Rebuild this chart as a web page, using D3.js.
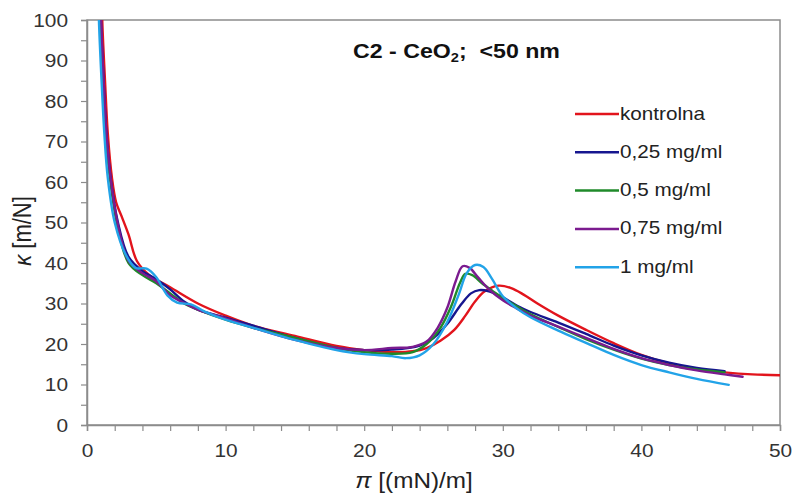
<!DOCTYPE html>
<html>
<head>
<meta charset="utf-8">
<script src="https://cdn.jsdelivr.net/npm/d3@7"></script>
<style>
  html, body { margin: 0; padding: 0; background: #fff; }
  svg { display: block; }
  text { font-family: "Liberation Sans", Arial, sans-serif; }
</style>
</head>
<body>
<svg id="chart" width="795" height="497"></svg>
<script>
// Surface pressure π [(mN)/m] vs. compressibility κ [m/N]
const seriesNames = ["kontrolna", "0,25 mg/ml", "0,5 mg/ml", "0,75 mg/ml", "1 mg/ml"];
const seriesColors = ["#e2141c", "#16168f", "#1f8a2a", "#7b1b8f", "#22a3e8"];

const kontrolna = [[1.05,112],[1.1,100],[1.3,85],[1.5,72],[1.8,61],[2.1,55],[2.5,51.5],[3,47],[3.6,40.5],[4.5,37],[6,34],[8,30],[10,27],[12,24.5],[15,22],[18,19.5],[20,18.5],[22,18],[23.5,18.2],[24.5,19],[25.5,20.8],[26.5,23.5],[27.3,27],[28,30.5],[28.7,33],[29.7,34.4],[30.6,33.8],[31.5,32.2],[32.5,30],[34,27],[36,23.5],[38,20.2],[40,17.3],[42,15.2],[44,13.8],[46,13],[48,12.5],[50,12.3]];
const c025 = [[0.95,112],[1.0,100],[1.2,85],[1.4,72],[1.7,61],[2.2,50.5],[3,41.5],[4,38],[5,36],[6,33.5],[7,30.5],[8,28.5],[10,26.5],[12,24.5],[15,21.5],[18,19],[20,18.5],[22,18.6],[24,19.6],[25,21.5],[26,25],[27,29.8],[27.7,32.5],[28.3,33.3],[29,33],[30,31.5],[31,29.5],[32,27.9],[34,25.3],[36,22.5],[38,19.6],[40,17.2],[42,15.4],[44,14.1],[46,13.3]];
const c05 = [[0.9,112],[0.97,100],[1.15,85],[1.35,72],[1.65,61],[2.2,49],[3,40],[4,37],[5,35],[6,32.5],[7,30],[8,28.5],[10,26],[12,24],[15,21.5],[18,19],[20,18],[22,17.6],[23.5,18],[24.5,20],[25.5,24],[26.3,29.5],[26.9,35],[27.3,37.3],[27.8,37],[28.5,35],[29.3,33],[30,31.3],[31,29.3],[32,27.3],[34,24.2],[36,21.2],[38,18.6],[40,16.4],[42,14.8],[44,13.7],[46,13]];
const c075 = [[0.95,112],[1.02,100],[1.2,85],[1.4,72],[1.7,61],[2.2,50],[3,40.5],[4,37.5],[5,35.5],[6,32],[6.8,30.5],[8,28.5],[10,26.3],[12,24],[15,21],[18,19],[20,18.5],[22,19],[23.5,19.3],[24.5,20.6],[25.3,24],[26,29],[26.6,35.5],[27.1,39.2],[27.6,38.8],[28.2,36.5],[29,33.5],[30,30.8],[31,28.8],[32,27],[34,24.3],[36,21.5],[38,18.8],[40,16.5],[42,14.8],[44,13.5],[46,12.5],[47.3,11.9]];
const c1 = [[0.8,112],[0.86,100],[1.05,85],[1.25,72],[1.5,61],[2,50],[2.8,42],[3.5,38.8],[4.3,38.6],[5,36.5],[5.8,32],[6.5,30.2],[7.5,29.8],[8.5,28],[10,26],[12,24],[15,21],[18,18.5],[20,17.5],[22,17],[23,16.5],[24,17.2],[25,20],[26,25.5],[26.8,32],[27.4,37.5],[28,39.5],[28.6,39],[29.2,36.2],[30,31.8],[31,28.8],[32,26.6],[34,23.3],[36,20.3],[38,17.3],[40,14.8],[42,13],[44,11.4],[46.3,9.9]];
const seriesData = [kontrolna, c025, c05, c075, c1];

const xTicks = [0, 10, 20, 30, 40, 50];
const yTicks = [0, 10, 20, 30, 40, 50, 60, 70, 80, 90, 100];

const svg = d3.select("#chart");
const plotLeft = 87, plotRight = 780, plotTop = 20, plotBottom = 425;
const widen = 1.13;   // glyphs are drawn slightly wide

const x = d3.scaleLinear().domain([0, 50]).range([plotLeft, plotRight]);
const y = d3.scaleLinear().domain([0, 100]).range([plotBottom, plotTop]);

// plot frame
svg.append("rect")
  .attr("x", plotLeft).attr("y", plotTop)
  .attr("width", plotRight - plotLeft).attr("height", plotBottom - plotTop)
  .attr("fill", "none").attr("stroke", "#8c8c8c").attr("stroke-width", 1.5);

svg.append("defs").append("clipPath").attr("id", "plot")
  .append("rect").attr("x", plotLeft).attr("y", plotTop)
  .attr("width", plotRight - plotLeft).attr("height", plotBottom - plotTop);

// axes: major labelled ticks plus minor ticks
const gx = svg.append("g").attr("transform", `translate(0,${plotBottom})`);
gx.call(d3.axisBottom(x).tickValues(d3.range(0, 51, 2)).tickSize(6).tickFormat(""));
gx.call(g => g.selectAll(".tick line").attr("stroke", "#8c8c8c").attr("stroke-width", 1.2));
gx.select(".domain").attr("stroke", "#8c8c8c").attr("stroke-width", 1.5);
const gxl = svg.append("g").attr("transform", `translate(0,${plotBottom})`);
gxl.call(d3.axisBottom(x).tickValues(xTicks).tickSize(0).tickPadding(0));
gxl.select(".domain").remove();
gxl.selectAll("text")
  .attr("y", 32).attr("dy", null)
  .attr("font-size", 18.5).attr("fill", "#333")
  .attr("transform", `scale(${widen},1)`)
  .style("font-family", "'Liberation Sans', Arial, sans-serif");

const gy = svg.append("g").attr("transform", `translate(${plotLeft},0)`);
gy.call(d3.axisLeft(y).tickValues(d3.range(0, 101, 5)).tickSize(6).tickFormat(""));
gy.call(g => g.selectAll(".tick line").attr("stroke", "#8c8c8c").attr("stroke-width", 1.2));
gy.select(".domain").attr("stroke", "#8c8c8c").attr("stroke-width", 1.5);
const gyl = svg.append("g").attr("transform", `translate(${plotLeft},0)`);
gyl.call(d3.axisLeft(y).tickValues(yTicks).tickSize(0).tickPadding(0));
gyl.select(".domain").remove();
gyl.selectAll("text")
  .attr("x", -19 / widen).attr("dy", "0.35em")
  .attr("font-size", 18.5).attr("fill", "#333")
  .attr("transform", `scale(${widen},1)`)
  .style("font-family", "'Liberation Sans', Arial, sans-serif");

// curves
const line = d3.line().x(d => x(d[0])).y(d => y(d[1])).curve(d3.curveCatmullRom.alpha(0.5));
const curves = svg.append("g").attr("clip-path", "url(#plot)");
seriesData.forEach((data, i) => {
  curves.append("path")
    .datum(data)
    .attr("d", line)
    .attr("fill", "none")
    .attr("stroke", seriesColors[i])
    .attr("stroke-width", 2.4)
    .attr("stroke-linejoin", "round")
    .attr("stroke-linecap", "round");
});

// text placed at (px, py), widened horizontally
function wideText(px, py, extra) {
  return svg.append("g")
    .attr("transform", `translate(${px},${py}) scale(${widen},1)${extra || ""}`)
    .append("text");
}

// legend
seriesNames.forEach((name, i) => {
  const ly = 114 + i * 38.3;
  svg.append("line")
    .attr("x1", 575).attr("x2", 619).attr("y1", ly).attr("y2", ly)
    .attr("stroke", seriesColors[i]).attr("stroke-width", 2.5);
  wideText(620, ly + 5.5)
    .attr("font-size", 18.3).attr("fill", "#222")
    .text(name);
});

// title
const title = wideText(353, 58)
  .attr("font-size", 20.5).attr("font-weight", "bold").attr("fill", "#111");
title.append("tspan").text("C2 - CeO");
title.append("tspan").attr("font-size", 13).attr("dy", 4).text("2");
title.append("tspan").attr("dy", -4).text(";\u00a0 <50 nm");

// axis titles
const xt = wideText(414, 488)
  .attr("text-anchor", "middle")
  .attr("font-size", 21.5).attr("fill", "#222");
xt.append("tspan").attr("font-style", "italic").text("π");
xt.append("tspan").text(" [(mN)/m]");

const yt = wideText(31, 231, " rotate(-90)")
  .attr("text-anchor", "middle")
  .attr("font-size", 22).attr("fill", "#222");
yt.append("tspan").attr("font-style", "italic").text("κ");
yt.append("tspan").text(" [m/N]");
</script>
</body>
</html>
